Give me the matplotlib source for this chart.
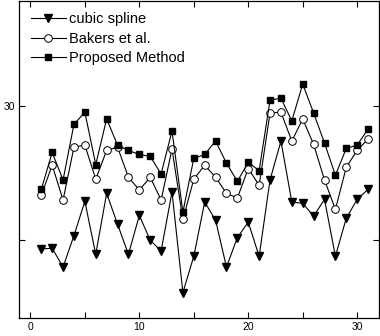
import numpy as np
import matplotlib
matplotlib.use('Agg')
import matplotlib.pyplot as plt
from matplotlib.ticker import FixedLocator, FixedFormatter

plt.rcParams['font.family'] = ['Liberation Sans', 'DejaVu Sans']

frames = list(range(1, 32))

cubic_spline = [27.87, 27.88, 27.60, 28.07, 28.58, 27.79, 28.70, 28.24, 27.79, 28.37,
                28.00, 27.84, 28.72, 27.22, 27.76, 28.57, 28.30, 27.60, 28.04, 28.27,
                27.76, 28.90, 29.48, 28.57, 28.55, 28.36, 28.61, 27.76, 28.33, 28.61,
                28.76]
bakers = [28.67, 29.12, 28.60, 29.39, 29.42, 28.91, 29.34, 29.39, 28.94, 28.75,
          28.94, 28.60, 29.36, 28.31, 28.91, 29.12, 28.94, 28.70, 28.63, 29.07,
          28.82, 29.90, 29.91, 29.48, 29.81, 29.43, 28.90, 28.46, 29.09, 29.34,
          29.51]
proposed = [28.76, 29.31, 28.90, 29.73, 29.91, 29.13, 29.81, 29.42, 29.34, 29.28,
            29.25, 28.99, 29.63, 28.42, 29.22, 29.28, 29.48, 29.15, 28.88, 29.16,
            29.04, 30.09, 30.12, 29.78, 30.33, 29.90, 29.45, 28.97, 29.37, 29.42,
            29.66]

x_ticks = [0, 10, 20, 30]
x_labels = ['0', '10', '20', '30']
y_ticks = [28, 30]
y_labels = ['', '30']

fig = plt.figure(figsize=(3.8, 3.36), dpi=100)
ax = fig.add_axes([0.0513, 0.0536, 0.946, 0.9435])

lw = 0.8
ax.plot(frames, cubic_spline, color='black', lw=lw, marker='v', ms=6,
        mfc='black', mec='black', label='cubic spline')
ax.plot(frames, bakers, color='black', lw=lw, marker='o', ms=5.5,
        mfc='white', mec='black', mew=0.7, label='Bakers et al.')
ax.plot(frames, proposed, color='black', lw=lw, marker='s', ms=5,
        mfc='black', mec='black', label='Proposed Method')

ax.set_xlim(-1, 32)
ax.set_ylim(26.84, 31.57)

ax.xaxis.set_major_locator(FixedLocator(x_ticks))
ax.xaxis.set_major_formatter(FixedFormatter(x_labels))
ax.xaxis.set_minor_locator(FixedLocator([5, 15, 25]))
ax.yaxis.set_major_locator(FixedLocator(y_ticks))
ax.yaxis.set_major_formatter(FixedFormatter(y_labels))

ax.tick_params(which='both', direction='in', top=True, right=True,
               length=4, width=0.8, labelsize=7.5, pad=3)
for s in ax.spines.values():
    s.set_linewidth(0.9)

leg = ax.legend(loc='upper left', bbox_to_anchor=(0.0, 1.0), frameon=False,
                fontsize=10.5, handlelength=2.4, handletextpad=0.2,
                labelspacing=0.38, borderaxespad=0.42, borderpad=0.35)

fig.savefig('out.png', dpi=100)
